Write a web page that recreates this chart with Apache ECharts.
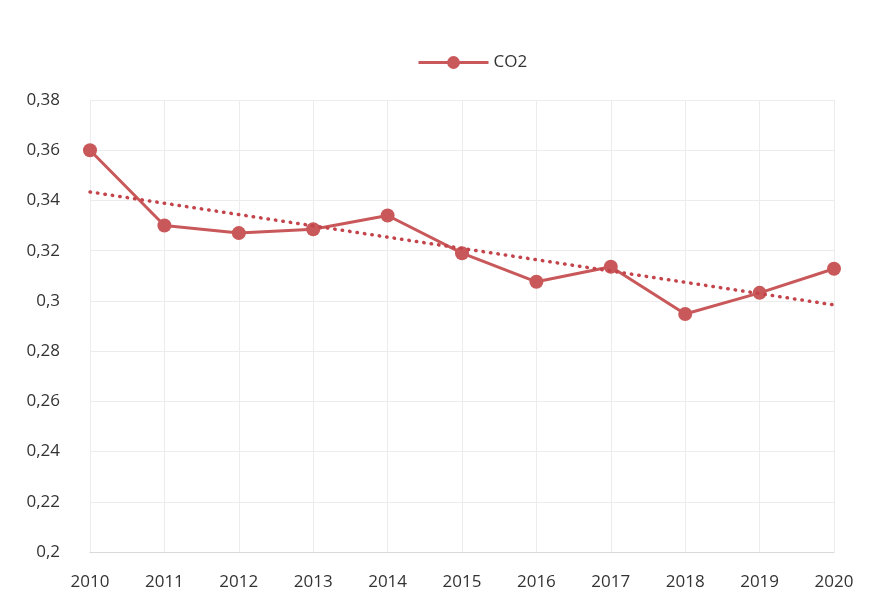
<!DOCTYPE html>
<html>
<head>
<meta charset="utf-8">
<script src="https://cdn.jsdelivr.net/npm/echarts@6/dist/echarts.min.js"></script>
<style>
  html, body { margin: 0; padding: 0; background: #fff; }
  #chart { width: 873px; height: 611px; }
</style>
</head>
<body>
<div id="chart"></div>
<script>
// CO2 per year
const years = ['2010', '2011', '2012', '2013', '2014', '2015', '2016', '2017', '2018', '2019', '2020']
const co2 = [0.360, 0.330, 0.327, 0.3285, 0.334, 0.319, 0.3076, 0.3136, 0.2948, 0.3032, 0.3128]
// trend line ends (linear trend drawn in the original)
const trendStart = ['2010', 0.3434]
const trendEnd = ['2020', 0.2984]

const RED = '#c9585a'
const chart = echarts.init(document.getElementById('chart'))

chart.setOption({
  animation: false,
  textStyle: { fontFamily: '"Open Sans", sans-serif' },
  grid: { left: 90, right: 39, top: 100, bottom: 59 },
  legend: {
    top: 49, left: 412,
    data: ['CO2'],
    itemWidth: 70, itemHeight: 16, itemGap: 10,
    lineStyle: { width: 3 },
    textStyle: { color: '#333', fontSize: 17 },
  },
  xAxis: {
    type: 'category', data: years, boundaryGap: false,
    axisLine: { lineStyle: { color: '#d9d9d9' } },
    axisTick: { show: false },
    axisLabel: { color: '#333', fontSize: 17, margin: 22 },
    splitLine: { show: true, lineStyle: { color: '#ececec' } },
  },
  yAxis: {
    type: 'value', min: 0.2, max: 0.38, interval: 0.02,
    axisLine: { show: false }, axisTick: { show: false },
    axisLabel: {
      color: '#333', fontSize: 17, margin: 30,
      formatter: (v) => String(+v.toFixed(2)).replace('.', ','),
    },
    splitLine: { lineStyle: { color: '#ececec' } },
  },
  series: [{
    name: 'CO2', type: 'line', data: co2,
    symbol: 'circle', symbolSize: 14,
    itemStyle: { color: RED },
    lineStyle: { color: RED, width: 3 },
    markLine: {
      silent: true, symbol: 'none', label: { show: false },
      lineStyle: { color: '#c4444c', width: 3.5, type: [0.5, 7], cap: 'round' },
      data: [[{ coord: trendStart }, { coord: trendEnd }]],
    },
  }],
})
</script>
</body>
</html>
